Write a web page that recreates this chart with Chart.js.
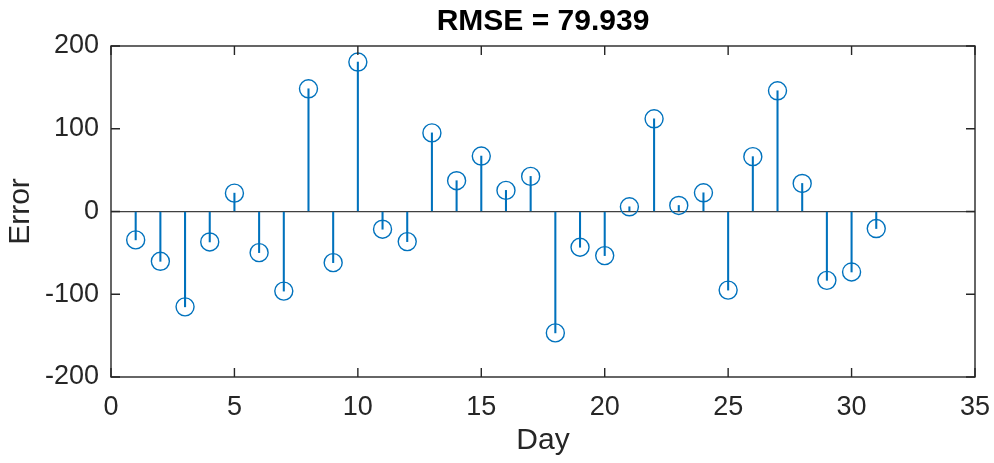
<!DOCTYPE html>
<html>
<head>
<meta charset="utf-8">
<script src="https://cdn.jsdelivr.net/npm/chart.js@4/dist/chart.umd.min.js"></script>
<style>
html,body{margin:0;padding:0;background:#fff;}
#wrap{width:994px;height:463px;}
</style>
</head>
<body>
<div id="wrap"><canvas id="c" width="994" height="463"></canvas></div>
<script>
const days = [1,2,3,4,5,6,7,8,9,10,11,12,13,14,15,16,17,18,19,20,21,22,23,24,25,26,27,28,29,30,31];
const errors = [-34.3,-60.2,-115.2,-36.8,22.2,-49.7,-96.2,148.3,-61.8,180.6,-21.4,-36.4,95.0,37.2,67.0,25.5,42.4,-146.7,-43.2,-53.3,5.7,112.0,7.3,22.6,-95.0,66.3,145.9,33.9,-83.2,-73.1,-20.6];
const xTicks = [0,5,10,15,20,25,30,35];
const yTicks = [-200,-100,0,100,200];
const titleText = 'RMSE = 79.939';
const xLabel = 'Day';
const yLabel = 'Error';

const points = days.map((d,i)=>({x:d,y:errors[i]}));
const stemColor = '#0072BD';
const axisColor = '#262626';
const FONT = "'Liberation Sans', Arial, Helvetica, sans-serif";

const boxPlugin = {
  id:'boxTicks',
  afterDraw(chart){
    const {ctx, chartArea:a, scales} = chart;
    ctx.save();
    ctx.strokeStyle = axisColor;
    ctx.lineWidth = 1.4;
    ctx.strokeRect(a.left, a.top, a.right-a.left, a.bottom-a.top);
    const L = 9;
    ctx.beginPath();
    xTicks.forEach(v=>{
      const px = scales.x.getPixelForValue(v);
      ctx.moveTo(px, a.bottom); ctx.lineTo(px, a.bottom-L);
      ctx.moveTo(px, a.top); ctx.lineTo(px, a.top+L);
    });
    yTicks.forEach(v=>{
      const py = scales.y.getPixelForValue(v);
      ctx.moveTo(a.left, py); ctx.lineTo(a.left+L, py);
      ctx.moveTo(a.right, py); ctx.lineTo(a.right-L, py);
    });
    ctx.stroke();
    // title centred over the axes box, as in MATLAB
    ctx.fillStyle = '#000';
    ctx.font = "bold 30px " + FONT;
    ctx.textAlign = 'center';
    ctx.textBaseline = 'middle';
    ctx.fillText(titleText, (a.left+a.right)/2, 22);
    ctx.restore();
  }
};

new Chart(document.getElementById('c'), {
  type:'scatter',
  data:{
    datasets:[
      {
        type:'bar',
        data:points,
        backgroundColor:stemColor,
        borderWidth:0,
        barThickness:1.4,
        order:2
      },
      {
        type:'scatter',
        data:points,
        pointStyle:'circle',
        pointRadius:9,
        pointHoverRadius:9,
        borderColor:stemColor,
        backgroundColor:'rgba(0,0,0,0)',
        pointBorderWidth:1.4,
        borderWidth:1.4,
        order:1
      }
    ]
  },
  options:{
    responsive:false,
    animation:false,
    events:[],
    layout:{padding:{left:0,right:19,top:46,bottom:0}},
    plugins:{
      legend:{display:false},
      tooltip:{enabled:false},
      title:{display:false}
    },
    scales:{
      x:{
        type:'linear',
        min:0,max:35,
        offset:false,
        afterFit(s){ s.height = 86; s.paddingLeft = 0; s.paddingRight = 0; },
        afterBuildTicks(s){ s.ticks = xTicks.map(v=>({value:v})); },
        border:{display:false},
        grid:{display:false, drawTicks:false, offset:false},
        ticks:{color:axisColor, font:{family:FONT,size:27}, padding:14, maxRotation:0, autoSkip:false},
        title:{display:true, text:xLabel, color:axisColor, font:{family:FONT,size:30,lineHeight:1.2}, padding:{top:0,bottom:4}}
      },
      y:{
        type:'linear',
        min:-200,max:200,
        afterFit(s){ s.width = 111; s.paddingTop = 0; s.paddingBottom = 0; },
        afterBuildTicks(s){ s.ticks = yTicks.map(v=>({value:v})); },
        border:{display:false},
        grid:{
          drawTicks:false,
          color:(c)=> (c.tick && c.tick.value===0) ? '#404040' : 'rgba(0,0,0,0)',
          lineWidth:1.3
        },
        ticks:{color:axisColor, font:{family:FONT,size:27}, padding:12},
        title:{display:true, text:yLabel, color:axisColor, font:{family:FONT,size:30,lineHeight:1.2}, padding:{top:3,bottom:0}}
      }
    }
  },
  plugins:[boxPlugin]
});
</script>
</body>
</html>
